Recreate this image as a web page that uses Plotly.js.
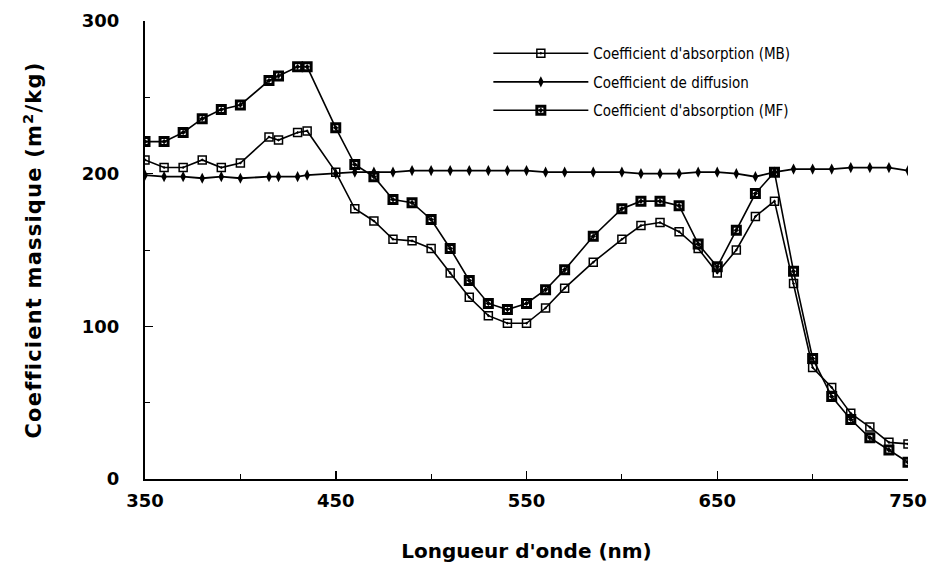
<!DOCTYPE html>
<html>
<head>
<meta charset="utf-8">
<script src="https://cdn.plot.ly/plotly-3.0.1.min.js"></script>
<style>html,body{margin:0;padding:0;background:#fff;}#chart{width:939px;height:573px;}
.ytitle{letter-spacing:1.2px;}</style>
</head>
<body>
<div id="chart"></div>
<script>
// Wavelengths (nm)
const wavelengths = [350, 360, 370, 380, 390, 400, 415, 420, 430, 435, 450, 460, 470, 480, 490, 500, 510, 520, 530, 540, 550, 560, 570, 585, 600, 610, 620, 630, 640, 650, 660, 670, 680, 690, 700, 710, 720, 730, 740, 750];
// Coefficient d'absorption (MB)
const absorptionMB = [209, 204, 204, 209, 204, 207, 224, 222, 227, 228, 201, 177, 169, 157, 156, 151, 135, 119, 107, 102, 102, 112, 125, 142, 157, 166, 168, 162, 151, 135, 150, 172, 182, 128, 73, 60, 43, 34, 24, 23];
// Coefficient de diffusion
const diffusion = [199, 198, 198, 197, 198, 197, 198, 198, 198, 199, 200, 201, 201, 201, 202, 202, 202, 202, 202, 202, 202, 201, 201, 201, 201, 200, 200, 200, 201, 201, 200, 198, 201, 203, 203, 203, 204, 204, 204, 202];
// Coefficient d'absorption (MF)
const absorptionMF = [221, 221, 227, 236, 242, 245, 261, 264, 270, 270, 230, 206, 198, 183, 181, 170, 151, 130, 115, 111, 115, 124, 137, 159, 177, 182, 182, 179, 154, 139, 163, 187, 201, 136, 79, 54, 39, 27, 19, 11];

const seriesNames = ["Coefficient d'absorption (MB)", "Coefficient de diffusion", "Coefficient d'absorption (MF)"];
const xTickVals = [350, 450, 550, 650, 750];
const yTickVals = [0, 100, 200, 300];

const font = "DejaVu Sans, sans-serif";
const legendFont = "DejaVu Sans Condensed, DejaVu Sans, sans-serif";

const traces = [
  {x: wavelengths, y: absorptionMB, name: seriesNames[0], legendgroup: 'a', mode: 'lines+markers',
   line: {color: '#000', width: 1.6},
   marker: {symbol: 'square-open-dot', size: 8, color: '#000', line: {width: 1.5, color: '#000'}}},
  {x: wavelengths, y: diffusion, name: seriesNames[1], legendgroup: 'b', mode: 'lines+markers',
   line: {color: '#000', width: 1.8},
   marker: {symbol: 'diamond-tall', size: 8, color: '#000', line: {width: 0}}},
  {x: wavelengths, y: absorptionMF, name: seriesNames[2], legendgroup: 'c', mode: 'lines+markers',
   line: {color: '#000', width: 1.6},
   marker: {symbol: 'square-open-dot', size: 8, color: '#000', line: {width: 3, color: '#000'}}}
];

const layout = {
  width: 939, height: 573,
  paper_bgcolor: '#fff', plot_bgcolor: '#fff',
  margin: {l: 145, r: 31, t: 21, b: 94},
  showlegend: true,
  legend: {x: 0.45, y: 0.965, xanchor: 'left', yanchor: 'top', bgcolor: 'rgba(0,0,0,0)',
           font: {family: legendFont, size: 15, color: '#000'}, itemwidth: 95, tracegroupgap: 6},
  xaxis: {
    range: [350, 750], tickvals: xTickVals, ticktext: xTickVals.map(String),
    showgrid: false, zeroline: false, showline: true, linecolor: '#000', linewidth: 2,
    ticks: 'inside', ticklen: 8, tickwidth: 1.5, tickcolor: '#000', ticklabelstandoff: 4,
    minor: {tickvals: [400, 500, 600, 700], ticks: 'inside', ticklen: 5, tickwidth: 1, tickcolor: '#000'},
    tickfont: {family: font, size: 18, color: '#000', weight: 'bold'},
    title: {text: "Longueur d'onde (nm)", font: {family: font, size: 20, color: '#000', weight: 'bold'}, standoff: 34}
  },
  yaxis: {
    range: [0, 300], tickvals: yTickVals, ticktext: yTickVals.map(String),
    showgrid: false, zeroline: false, showline: true, linecolor: '#000', linewidth: 2,
    ticks: 'inside', ticklen: 8, tickwidth: 1.5, tickcolor: '#000', ticklabelstandoff: 20,
    minor: {tickvals: [50, 150, 250], ticks: 'inside', ticklen: 5, tickwidth: 1, tickcolor: '#000'},
    tickfont: {family: font, size: 18, color: '#000', weight: 'bold'},
    title: {text: "Coefficient massique (m<sup>2</sup>/kg)", font: {family: font, size: 21, color: '#000', weight: 'bold'}, standoff: 34}
  }
};

Plotly.newPlot('chart', traces, layout, {displayModeBar: false, staticPlot: true});
</script>
</body>
</html>
